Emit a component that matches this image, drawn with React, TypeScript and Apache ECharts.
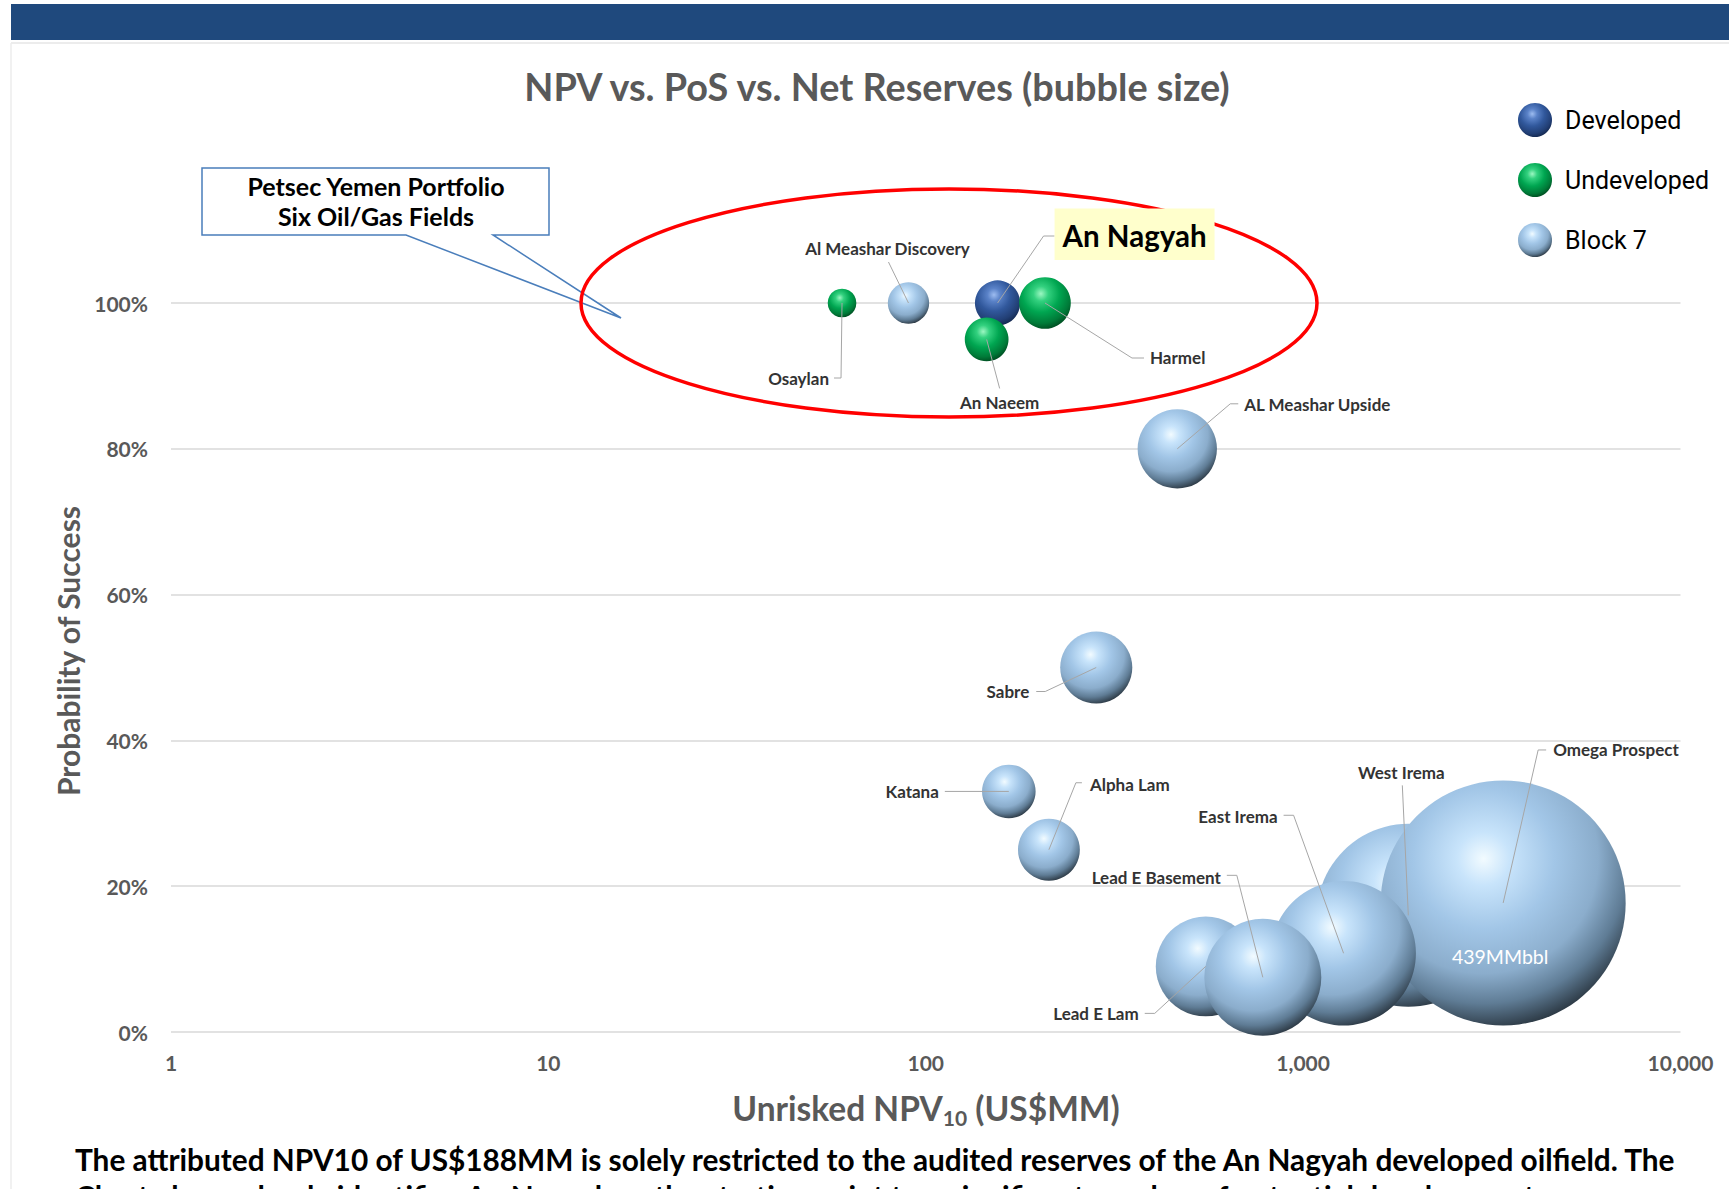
import React, { useEffect, useRef } from 'react';
import * as echarts from 'echarts';

// ---------------- DATA ----------------
const SERIES_NAMES = ['Developed', 'Undeveloped', 'Block 7'];

const DEVELOPED_NAMES = ['An Nagyah'];
const DEVELOPED_NPV = [155];
const DEVELOPED_POS = [1.0];
const DEVELOPED_RESERVES = [15];

const UNDEVELOPED_NAMES = ['Osaylan', 'An Naeem', 'Harmel'];
const UNDEVELOPED_NPV = [60, 145, 207];
const UNDEVELOPED_POS = [1.0, 0.95, 1.0];
const UNDEVELOPED_RESERVES = [6, 14, 19.5];

const BLOCK7_NAMES = [
  'Al Meashar Discovery', 'AL Meashar Upside', 'Sabre', 'Katana', 'Alpha Lam',
  'West Irema', 'Omega Prospect', 'East Irema', 'Lead E Lam', 'Lead E Basement',
];
const BLOCK7_NPV = [90, 464, 283, 166, 212, 1900, 3389, 1280, 552, 782];
const BLOCK7_POS = [1.0, 0.8, 0.5, 0.33, 0.25, 0.16, 0.177, 0.108, 0.09, 0.075];
const BLOCK7_RESERVES = [12.5, 46, 38, 21, 28, 245, 439, 153, 73, 100];

const Y_TICK_STEP = 0.2;
const TITLE = 'NPV vs. PoS vs. Net Reserves (bubble size)';
const Y_NAME = 'Probability of Success';
const CALLOUT_LINES = ['Petsec Yemen Portfolio', 'Six Oil/Gas Fields'];
const FOOTER_LINES = [
  'The attributed NPV10 of US$188MM is solely restricted to the audited reserves of the An Nagyah developed oilfield. The',
  'Chart above clearly identifies An Nagyah as the starting point to a significant number of potential developments.',
];

// ---------------- STYLE / LAYOUT ----------------
const CAL = 'Lato, "Open Sans", sans-serif';
const NARROW = 'Roboto, "Liberation Sans", sans-serif';
const MAX_RES = 439;
const MAX_DIAM = 245;

// label layout: offsets (px) relative to bubble centre
const LABEL_LAYOUT: Record<string, any> = {
  'Osaylan': { pts: [[-1, 75], [-8, 75]], text: [-13, 75], align: 'right' },
  'Al Meashar Discovery': { pts: [[-20, -41]], text: [-21, -55], align: 'center' },
  'An Nagyah': { pts: [[46, -67], [57, -67]], text: [137, -68], align: 'center', big: true },
  'Harmel': { pts: [[87, 55], [99, 55]], text: [105, 54], align: 'left' },
  'An Naeem': { pts: [[13, 49]], text: [13, 63], align: 'center' },
  'AL Meashar Upside': { pts: [[53, -45], [61, -45]], text: [67, -44], align: 'left' },
  'Sabre': { pts: [[-51, 24], [-60, 24]], text: [-67, 24], align: 'right' },
  'Katana': { pts: [[-64, 0]], text: [-70, 0], align: 'right' },
  'Alpha Lam': { pts: [[27, -67], [33, -67]], text: [41, -65], align: 'left' },
  'Omega Prospect': { pts: [[35, -153], [43, -153]], text: [50, -153], align: 'left', valueLabel: [-3, 54] },
  'West Irema': { pts: [[-6, -130]], text: [-7, -143], align: 'center' },
  'East Irema': { pts: [[-50, -138], [-60, -138]], text: [-66, -137], align: 'right' },
  'Lead E Lam': { pts: [[-51, 47], [-61, 47]], text: [-67, 47], align: 'right' },
  'Lead E Basement': { pts: [[-26, -102], [-36, -102]], text: [-42, -100], align: 'right' },
};

const sphere = (stops: [number, string][]) => ({
  type: 'radial', x: 0.42, y: 0.32, r: 0.72,
  colorStops: stops.map(([offset, color]) => ({ offset, color })),
});
const GRAD_DEV = sphere([[0, '#9dbcf0'], [0.2, '#5a82c8'], [0.5, '#31589c'], [0.8, '#223f75'], [1, '#12254a']]);
const GRAD_UND = sphere([[0, '#9cf7c2'], [0.2, '#33d17f'], [0.5, '#00a651'], [0.8, '#007a38'], [1, '#00451d']]);
const GRAD_B7 = sphere([[0, '#f2fbff'], [0.15, '#c8e4fb'], [0.4, '#a2c6e7'], [0.65, '#8badcc'], [0.82, '#5f7c95'], [0.95, '#33424f'], [1, '#222c35']]);

const sizeFn = (v: number[]) => MAX_DIAM * Math.sqrt(v[2] / MAX_RES);

const toData = (xs: number[], ys: number[], rs: number[]) => xs.map((x, i) => [x, ys[i], rs[i]]);

export default function App() {
  const ref = useRef<HTMLDivElement>(null);
  useEffect(() => {
    if (!ref.current) return;
    const chart = echarts.init(ref.current, undefined, { renderer: 'svg' });

    const allNames = [...DEVELOPED_NAMES, ...UNDEVELOPED_NAMES, ...BLOCK7_NAMES];
    const allData = [
      ...toData(DEVELOPED_NPV, DEVELOPED_POS, DEVELOPED_RESERVES),
      ...toData(UNDEVELOPED_NPV, UNDEVELOPED_POS, UNDEVELOPED_RESERVES),
      ...toData(BLOCK7_NPV, BLOCK7_POS, BLOCK7_RESERVES),
    ];

    const scatterCommon = {
      type: 'scatter',
      symbol: 'circle',
      symbolSize: sizeFn,
      emphasis: { disabled: true },
      clip: false,
    };

    const option: any = {
      animation: false,
      backgroundColor: '#ffffff',
      grid: { left: 171, right: 48.5, top: 303, bottom: 157, containLabel: false },
      legend: {
        data: SERIES_NAMES,
        orient: 'vertical',
        left: 1513,
        top: 98,
        itemWidth: 34,
        itemHeight: 34,
        itemGap: 26,
        icon: 'circle',
        selectedMode: false,
        textStyle: { fontFamily: NARROW, fontSize: 25, color: '#000', padding: [0, 0, 0, 8] },
      },
      xAxis: {
        type: 'log',
        logBase: 10,
        min: 1,
        max: 10000,
        axisLine: { show: false },
        axisTick: { show: false },
        splitLine: { show: false },
        axisLabel: {
          margin: 20,
          fontFamily: CAL,
          fontWeight: 'bold',
          fontSize: 21,
          color: '#595959',
          formatter: (v: number) => Math.round(v).toLocaleString('en-US'),
        },
      },
      yAxis: {
        type: 'value',
        min: 0,
        max: 1,
        interval: Y_TICK_STEP,
        axisLine: { show: false },
        axisTick: { show: false },
        splitLine: { lineStyle: { color: '#d9d9d9', width: 1.5 } },
        axisLabel: {
          margin: 23,
          fontFamily: CAL,
          fontWeight: 'bold',
          fontSize: 21,
          color: '#595959',
          formatter: (v: number) => Math.round(v * 100) + '%',
        },
      },
      graphic: [
        { type: 'rect', shape: { x: 11, y: 4, width: 1718, height: 36 }, style: { fill: '#1f497d' }, z: 1 },
        { type: 'line', shape: { x1: 11, y1: 43, x2: 1729, y2: 43 }, style: { stroke: '#ececec', lineWidth: 2 }, z: 1 },
        { type: 'line', shape: { x1: 11, y1: 43, x2: 11, y2: 1189 }, style: { stroke: '#ececec', lineWidth: 1.5 }, z: 1 },
        {
          type: 'text', x: 877, y: 86, z: 5,
          style: { text: TITLE, align: 'center', verticalAlign: 'middle', fill: '#595959', fontFamily: CAL, fontWeight: 'bold', fontSize: 37.8 },
        },
        {
          type: 'polygon', z: 5,
          shape: { points: [[202, 168], [549, 168], [549, 235], [493, 235], [621, 318], [406, 235], [202, 235]] },
          style: { fill: '#ffffff', stroke: '#4a7ebb', lineWidth: 1.5 },
        },
        {
          type: 'text', x: 376, y: 186, z: 6,
          style: { text: CALLOUT_LINES[0], align: 'center', verticalAlign: 'middle', fill: '#000', fontFamily: CAL, fontWeight: 'bold', fontSize: 25 },
        },
        {
          type: 'text', x: 376, y: 216, z: 6,
          style: { text: CALLOUT_LINES[1], align: 'center', verticalAlign: 'middle', fill: '#000', fontFamily: CAL, fontWeight: 'bold', fontSize: 25 },
        },
        {
          type: 'ellipse', z: 7,
          shape: { cx: 949, cy: 303, rx: 368, ry: 114 },
          style: { fill: 'none', stroke: '#ff0000', lineWidth: 3.5 },
        },
        {
          type: 'text', x: 68, y: 651, rotation: Math.PI / 2, z: 5,
          style: { text: Y_NAME, align: 'center', verticalAlign: 'middle', fill: '#595959', fontFamily: CAL, fontWeight: 'bold', fontSize: 30 },
        },
        {
          type: 'text', x: 926, y: 1108, z: 5,
          style: {
            text: '{a|Unrisked NPV}{s|10}{a| (US$MM)}',
            align: 'center', verticalAlign: 'middle',
            rich: {
              a: { fill: '#595959', fontFamily: CAL, fontWeight: 'bold', fontSize: 33.5, lineHeight: 40 },
              s: { fill: '#595959', fontFamily: CAL, fontWeight: 'bold', fontSize: 21, lineHeight: 40, padding: [18, 0, 0, 0] },
            },
          },
        },
        {
          type: 'text', x: 75, y: 1159, z: 5,
          style: { text: FOOTER_LINES[0], align: 'left', verticalAlign: 'middle', fill: '#000', fontFamily: CAL, fontWeight: 'bold', fontSize: 29.8 },
        },
        {
          type: 'text', x: 75, y: 1196, z: 5,
          style: { text: FOOTER_LINES[1], align: 'left', verticalAlign: 'middle', fill: '#000', fontFamily: CAL, fontWeight: 'bold', fontSize: 29.8 },
        },
      ],
      series: [
        { ...scatterCommon, name: SERIES_NAMES[0], data: toData(DEVELOPED_NPV, DEVELOPED_POS, DEVELOPED_RESERVES), itemStyle: { color: GRAD_DEV, opacity: 1 }, z: 3 },
        { ...scatterCommon, name: SERIES_NAMES[1], data: toData(UNDEVELOPED_NPV, UNDEVELOPED_POS, UNDEVELOPED_RESERVES), itemStyle: { color: GRAD_UND, opacity: 1 }, z: 3 },
        { ...scatterCommon, name: SERIES_NAMES[2], data: toData(BLOCK7_NPV, BLOCK7_POS, BLOCK7_RESERVES), itemStyle: { color: GRAD_B7, opacity: 1 }, z: 3 },
        {
          type: 'custom',
          name: 'labels',
          coordinateSystem: 'cartesian2d',
          data: allData,
          encode: { x: 0, y: 1 },
          z: 20,
          silent: true,
          clip: false,
          renderItem: (params: any, api: any) => {
            const name = allNames[params.dataIndex];
            const L = LABEL_LAYOUT[name];
            const c = api.coord([api.value(0), api.value(1)]);
            const children: any[] = [];
            const pts = [[c[0], c[1]], ...L.pts.map((p: number[]) => [c[0] + p[0], c[1] + p[1]])];
            children.push({ type: 'polyline', shape: { points: pts }, style: { stroke: '#a6a6a6', lineWidth: 1, fill: 'none' } });
            if (L.big) {
              children.push({ type: 'rect', shape: { x: c[0] + 57, y: c[1] - 94.5, width: 160, height: 51.5 }, style: { fill: '#ffffcc' } });
            }
            children.push({
              type: 'text', x: c[0] + L.text[0], y: c[1] + L.text[1],
              style: {
                text: name, align: L.align, verticalAlign: 'middle',
                fill: L.big ? '#000' : '#333333', fontFamily: CAL, fontWeight: 'bold', fontSize: L.big ? 29.5 : 17,
              },
            });
            if (L.valueLabel) {
              children.push({
                type: 'text', x: c[0] + L.valueLabel[0], y: c[1] + L.valueLabel[1],
                style: { text: api.value(2) + 'MMbbl', align: 'center', verticalAlign: 'middle', fill: '#ffffff', fontFamily: CAL, fontSize: 19.5 },
              });
            }
            return { type: 'group', children };
          },
        },
      ],
    };
    chart.setOption(option);
    return () => chart.dispose();
  }, []);
  return <div ref={ref} style={{ position: 'fixed', left: 0, top: 0, width: 1729, height: 1189 }} />;
}
